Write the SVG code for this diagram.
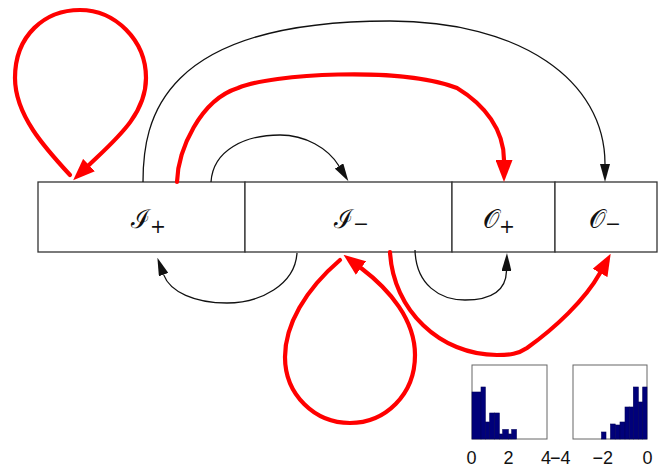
<svg xmlns="http://www.w3.org/2000/svg" width="662" height="468" viewBox="0 0 662 468">
<style>
.box{fill:#fff;stroke:#333;stroke-width:1.3}
.lbl{font-family:"DejaVu Serif","Liberation Serif",serif;font-size:26px;fill:#111}
.sub{font-family:"DejaVu Sans","Liberation Sans",sans-serif;font-size:19px}
.blk{fill:none;stroke:#111;stroke-width:1.3}
.red{fill:none;stroke:#f00;stroke-width:4.2;stroke-linecap:round}
.hb{fill:#fff;stroke:#666;stroke-width:1}
.bar{fill:#00007a;stroke:#00005a;stroke-width:0.6}
.tk{font-family:"Liberation Sans",Arial,sans-serif;font-size:18px;fill:#111}
</style>
<defs>
<marker id="ab" viewBox="0 0 18 10" refX="0" refY="5" markerWidth="18" markerHeight="10" markerUnits="userSpaceOnUse" orient="auto"><path d="M0,0 L18,5 L0,10 z" fill="#111"/></marker>
<marker id="ar" viewBox="0 0 22 17" refX="0" refY="8.5" markerWidth="22" markerHeight="17" markerUnits="userSpaceOnUse" orient="auto"><path d="M0,0 L22,8.5 L0,17 z" fill="#f00"/></marker>
</defs>
<g id="node-Iplus"><rect class="box" x="38" y="182" width="207" height="70"/><text class="lbl" x="131" y="228">ℐ<tspan class="sub" dy="5">+</tspan></text></g>
<g id="node-Iminus"><rect class="box" x="245" y="182" width="207" height="70"/><text class="lbl" x="334" y="228">ℐ<tspan class="sub" dy="2">−</tspan></text></g>
<g id="node-Oplus"><rect class="box" x="452" y="182" width="103" height="70"/><text class="lbl" x="483" y="228">𝒪<tspan class="sub" dy="5">+</tspan></text></g>
<g id="node-Ominus"><rect class="box" x="555" y="182" width="102" height="70"/><text class="lbl" x="589" y="228">𝒪<tspan class="sub" dy="2">−</tspan></text></g>
<g id="connectors">
<path class="red" d="M70,175 C45,148 15,115 15,78 C15,35 45,10 80,10 C115,10 146,40 146,78 C146,115 115,140 89,165" marker-end="url(#ar)"/>
<path class="blk" d="M143,182 C143,120 160,21 390,21 C520,21 605,80 605,164" marker-end="url(#ab)"/>
<path class="red" d="M177,182 C178,150 200,100 238,88 C270,74 400,66 457,88 C485,105 504,130 504,160" marker-end="url(#ar)"/>
<path class="blk" d="M211,182 C213,150 245,135 280,135 C305,135 328,148 339,166" marker-end="url(#ab)"/>
<path class="blk" d="M297,253 C295,285 260,303 227,303 C195,303 170,292 163.6,274.6" marker-end="url(#ab)"/>
<path class="red" d="M340,260 C305,290 285,325 285,357 C285,395 315,423 350,423 C385,423 415,395 415,355 C415,320 390,290 361,268" marker-end="url(#ar)"/>
<path class="blk" d="M415,250 C416,285 440,300 465,300 C492,300 506,290 506.5,271" marker-end="url(#ab)"/>
<path class="red" d="M390,252 C393,310 440,355 497,355 C510,355 518,354 527,348 C555,328 585,300 600,273" marker-end="url(#ar)"/>
</g>
<g id="hist-plus">
<rect class="hb" x="472" y="365" width="75" height="74"/>
<rect class="bar" x="472" y="392" width="9" height="47"/>
<rect class="bar" x="481" y="387" width="4.3" height="52"/>
<rect class="bar" x="485.3" y="422" width="4.4" height="17"/>
<rect class="bar" x="489.7" y="413" width="4.8" height="26"/>
<rect class="bar" x="494.5" y="413" width="4.8" height="26"/>
<rect class="bar" x="499.3" y="434" width="3.4" height="5"/>
<rect class="bar" x="502.7" y="429.5" width="5.6" height="9.5"/>
<rect class="bar" x="508.3" y="434" width="3.4" height="5"/>
<rect class="bar" x="511.7" y="429.5" width="4.8" height="9.5"/>
<text class="tk" x="466.5" y="464">0</text>
<text class="tk" x="503.5" y="464">2</text>
<text class="tk" x="541" y="464">4</text>
</g>
<g id="hist-minus">
<rect class="hb" x="573" y="365" width="74" height="74"/>
<rect class="bar" x="601.5" y="432" width="4.5" height="7"/>
<rect class="bar" x="610.5" y="424" width="4.7" height="15"/>
<rect class="bar" x="615.2" y="425" width="4.8" height="14"/>
<rect class="bar" x="620" y="422" width="5" height="17"/>
<rect class="bar" x="625" y="407" width="4.2" height="32"/>
<rect class="bar" x="629.2" y="407" width="4.1" height="32"/>
<rect class="bar" x="633.3" y="387" width="5" height="52"/>
<rect class="bar" x="638.3" y="402" width="4.4" height="37"/>
<rect class="bar" x="642.7" y="387" width="4.3" height="52"/>
<text class="tk" x="550" y="464">−4</text>
<text class="tk" x="592.5" y="464">−2</text>
<text class="tk" x="642.5" y="464">0</text>
</g>
</svg>
